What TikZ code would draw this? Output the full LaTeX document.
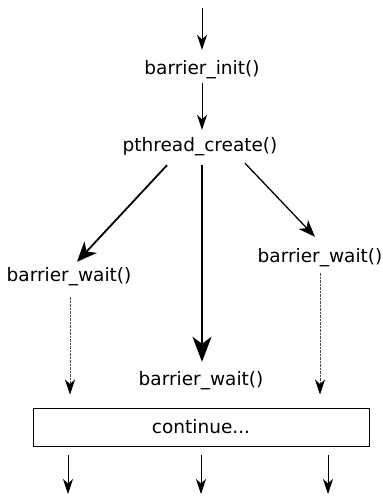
\documentclass[tikz,border=0pt]{standalone}
\usepackage{fontspec}
\setmainfont{DejaVu Sans}
\usetikzlibrary{arrows.meta}
\begin{document}
\begin{tikzpicture}[x=1pt,y=-1pt,
  lbl/.style={inner sep=0pt,text height=13pt,text depth=4pt,font=\fontsize{18.5}{21}\selectfont},
  thinarrow/.style={line width=1pt,-{Stealth[length=15pt,width=10pt,inset=4.5pt]}},
  leftarrow/.style={line width=1.8pt,-{Stealth[length=20pt,width=17pt,inset=6pt]}},
  bigarrow/.style={line width=2.4pt,-{Stealth[length=25pt,width=19pt,inset=7pt]}},
  rightarrow/.style={line width=1.3pt,-{Stealth[length=17pt,width=13pt,inset=5pt]}},
  dasharrow/.style={line width=1pt,dash pattern=on 2.5pt off 1pt,draw=black!70,-{Stealth[length=15pt,width=10pt,inset=4.5pt,black]}}
]
\useasboundingbox (0,0) rectangle (383,496);
\coordinate (top) at (202,8);
\node[lbl] (init) at (202,70) {barrier\_init()};
\node[lbl] (pc) at (200,147) {pthread\_create()};
\node[lbl] (bwl) at (69,277) {barrier\_wait()};
\node[lbl] (bwr) at (320,258) {barrier\_wait()};
\node[lbl] (bwc) at (201,381) {barrier\_wait()};
\node[draw,line width=1pt,minimum width=336pt,minimum height=38pt,inner sep=0pt,font=\fontsize{18.5}{21}\selectfont] (box) at (201,427) {continue...};
\coordinate (b1) at (68,494);
\coordinate (b2) at (201,494);
\coordinate (b3) at (328,494);

\draw[thinarrow] (top) -- ([yshift=11.5pt]init.north);
\draw[thinarrow] ([yshift=-4.5pt]init.south) -- ([xshift=2pt,yshift=8.5pt]pc.north);
\draw[leftarrow] ([xshift=-33pt,yshift=-9.5pt]pc.south) -- ([xshift=8pt,yshift=6.5pt]bwl.north);
\draw[bigarrow] ([xshift=2pt,yshift=-9.5pt]pc.south) -- ([xshift=1pt,yshift=10.5pt]bwc.north);
\draw[rightarrow] ([xshift=45pt,yshift=-7.5pt]pc.south) -- ([xshift=-5pt,yshift=12.5pt]bwr.north);
\draw[dasharrow] ([xshift=1pt,yshift=-11.5pt]bwl.south) -- ([xshift=1pt,yshift=13pt]bwl.south |- box.north);
\draw[dasharrow] ([yshift=-6.5pt]bwr.south) -- ([yshift=13pt]bwr.south |- box.north);
\draw[thinarrow] ([xshift=-133pt,yshift=-8pt]box.south) -- (b1);
\draw[thinarrow] ([yshift=-8pt]box.south) -- (b2);
\draw[thinarrow] ([xshift=127pt,yshift=-8pt]box.south) -- (b3);
\end{tikzpicture}
\end{document}
